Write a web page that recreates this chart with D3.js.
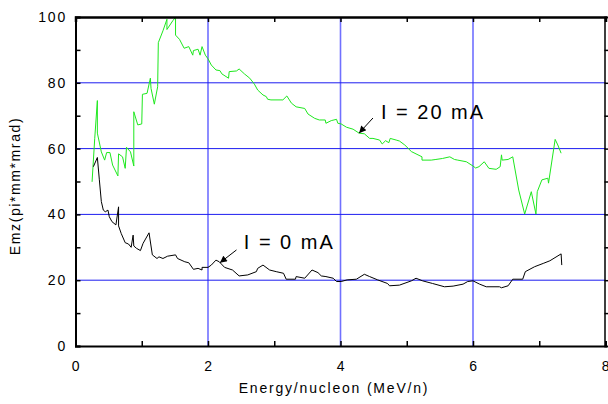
<!DOCTYPE html>
<html>
<head>
<meta charset="utf-8">
<script src="https://cdn.jsdelivr.net/npm/d3@7"></script>
<style>
  html, body { margin: 0; padding: 0; background: #fff; }
  svg { display: block; font-family: Arial, "Liberation Sans", sans-serif; }
</style>
</head>
<body>
<div id="chart"></div>
<script>
// I = 20 mA curve (green)
const energy20 = [0.25,0.29,0.33,0.33,0.39,0.44,0.47,0.52,0.56,0.64,0.65,0.71,0.75,0.77,0.83,0.88,0.88,0.94,1.00,1.01,1.08,1.13,1.14,1.19,1.24,1.25,1.32,1.38,1.38,1.47,1.51,1.51,1.57,1.64,1.71,1.77,1.78,1.85,1.88,1.91,1.96,2.00,2.05,2.12,2.18,2.21,2.31,2.32,2.43,2.47,2.55,2.63,2.70,2.75,2.83,2.88,2.90,2.95,3.13,3.19,3.26,3.33,3.46,3.51,3.61,3.68,3.77,3.78,3.86,3.94,3.96,4.01,4.09,4.19,4.28,4.36,4.44,4.49,4.59,4.63,4.68,4.73,4.75,4.84,4.89,4.97,5.07,5.14,5.23,5.23,5.37,5.44,5.54,5.65,5.72,5.77,5.90,6.00,6.04,6.09,6.17,6.24,6.35,6.41,6.43,6.44,6.53,6.60,6.69,6.78,6.88,6.95,6.97,7.04,7.13,7.14,7.24,7.28,7.33];
const emz20 = [49.9,63,74.6,64.7,59,56.5,58.8,58.8,55,51.7,58.4,57.5,54,60.4,59,54.7,71.2,67.2,67.5,76.5,76.8,81.4,78.3,73.5,78.8,92.2,95.8,99.3,96.2,98.9,99.9,94.5,93.2,90.5,91,88.4,89.8,90.2,88.4,91,88.4,87.3,85.4,83.9,83.7,82.7,81.4,83.4,83.6,84.2,82.7,81.4,79.6,77.8,76.3,75.8,75,74.8,74.8,76,73.8,72.7,72.2,70.5,69.2,68.7,68.7,67.7,68.5,68.9,67.7,67.5,66.5,65.9,64.7,64.5,63.1,63.1,62.6,61.4,62.4,61.8,63.1,62.6,62.3,61.1,59.1,58.4,57.5,56.5,56.5,56.7,57,57.5,56.7,56.5,56,54.7,54.1,54.5,56,54,53.7,54.5,58.1,56.5,56.7,57.5,47.4,40.1,46.9,40.1,46.9,50.5,51,49.5,62.8,61.1,58.6];

// I = 0 mA curve (black)
const energy0 = [0.27,0.33,0.36,0.39,0.42,0.45,0.49,0.51,0.55,0.61,0.65,0.65,0.69,0.75,0.80,0.84,0.87,0.88,0.92,0.98,1.02,1.11,1.16,1.23,1.26,1.32,1.39,1.51,1.54,1.65,1.71,1.78,1.85,1.91,1.91,2.00,2.05,2.12,2.17,2.25,2.37,2.47,2.60,2.73,2.75,2.83,2.93,3.03,3.14,3.18,3.32,3.33,3.46,3.57,3.66,3.71,3.78,3.89,3.94,4.01,4.10,4.24,4.36,4.44,4.56,4.71,4.74,4.89,5.07,5.14,5.24,5.39,5.57,5.70,5.85,5.92,6.00,6.10,6.20,6.40,6.43,6.53,6.60,6.75,6.79,6.93,7.06,7.16,7.33,7.34];
const emz0 = [54.5,57.3,50.5,43.9,41.3,40.8,41.3,39.3,37.8,36.8,42.3,36.5,34.2,31.4,31,30,33.7,30.4,29.7,29,31.2,34.4,27.7,26.6,27.1,26.6,27.3,27.7,26.6,25.6,25.3,23.3,23.6,23.1,23.9,23.9,24.6,26.1,25.6,23.9,23.1,21.3,21.6,22.6,23.6,24.6,23.1,22.6,22.1,20.3,20.3,21.1,20.6,23.1,22.3,21.3,21.1,20.6,19.6,19.6,20.1,20.3,21.8,21.1,20.1,19.0,18.3,18.5,19.8,20.6,19.8,19.0,18.0,18.2,18.8,19.6,19.8,18.8,18.0,18.0,17.7,18.3,20.3,20.3,22.6,24.1,25.1,25.9,28.0,24.6];

const xTicks = [0, 2, 4, 6, 8];
const yTicks = [0, 20, 40, 60, 80, 100];
const gridX = [2, 4, 6];
const gridY = [20, 40, 60, 80];

// annotations: label position and arrow (tail -> head), in data units
const labels = [
  { text: "I = 20 mA", x: 4.61, y: 69.0, from: [4.49, 69.3], to: [4.28, 64.7] },
  { text: "I = 0 mA",  x: 2.54, y: 29.5, from: [2.43, 29.2], to: [2.18, 25.3] }
];

const width = 608, height = 404;
const x = d3.scaleLinear().domain([0, 8]).range([75.5, 605.5]);
const y = d3.scaleLinear().domain([0, 100]).range([346, 17]);

const svg = d3.select("#chart").append("svg")
  .attr("width", width)
  .attr("height", height);

svg.append("defs").append("marker")
    .attr("id", "arrow")
    .attr("viewBox", "0 0 10 10")
    .attr("refX", 10).attr("refY", 5)
    .attr("markerWidth", 9).attr("markerHeight", 7)
    .attr("markerUnits", "userSpaceOnUse")
    .attr("orient", "auto")
  .append("path")
    .attr("d", "M0,0 L10,5 L0,10 Z")
    .attr("fill", "#000");

// grid
svg.append("g").selectAll("line").data(gridX).join("line")
  .attr("x1", d => x(d)).attr("x2", d => x(d))
  .attr("y1", y(0)).attr("y2", y(100))
  .attr("stroke", "#7070ff").attr("stroke-width", 1.6);
svg.append("g").selectAll("line").data(gridY).join("line")
  .attr("x1", x(0)).attr("x2", x(8))
  .attr("y1", d => y(d)).attr("y2", d => y(d))
  .attr("stroke", "#1c1cf0").attr("stroke-width", 1);

// curves
const line = d3.line().x(d => x(d[0])).y(d => y(d[1]));
svg.append("path")
  .datum(d3.zip(energy20, emz20))
  .attr("d", line)
  .attr("fill", "none")
  .attr("stroke", "#1ee81e")
  .attr("stroke-width", 1);
svg.append("path")
  .datum(d3.zip(energy0, emz0))
  .attr("d", line)
  .attr("fill", "none")
  .attr("stroke", "#000")
  .attr("stroke-width", 1);

// frame with inward ticks
const minorX = d3.range(0, 8.01, 1);
const minorY = d3.range(0, 100.1, 10);

svg.append("g")
    .attr("transform", `translate(0,${y(0)})`)
    .call(d3.axisBottom(x).tickValues(minorX).tickSize(-5).tickFormat(""))
    .call(g => g.select(".domain").attr("stroke-width", 2));
svg.append("g")
    .attr("transform", `translate(0,${y(100)})`)
    .call(d3.axisTop(x).tickValues(minorX).tickSize(-5).tickFormat(""))
    .call(g => g.select(".domain").attr("stroke-width", 2.5));
svg.append("g")
    .attr("transform", `translate(${x(0)},0)`)
    .call(d3.axisLeft(y).tickValues(minorY).tickSize(-5).tickFormat(""))
    .call(g => g.select(".domain").attr("stroke-width", 2));
svg.append("g")
    .attr("transform", `translate(${x(8) - 1},0)`)
    .call(d3.axisRight(y).tickValues(minorY).tickSize(4).tickFormat(""))
    .call(g => g.select(".domain").attr("stroke-width", 1.5));
svg.selectAll(".tick line").attr("stroke-width", 1.5);

// tick labels
svg.append("g").selectAll("text").data(xTicks).join("text")
  .attr("x", d => x(d) + 1)
  .attr("y", 371)
  .attr("text-anchor", "middle")
  .attr("font-size", 14)
  .attr("letter-spacing", 1.8)
  .text(d => d);
svg.append("g").selectAll("text").data(yTicks).join("text")
  .attr("x", 67)
  .attr("y", d => y(d) + 5)
  .attr("text-anchor", "end")
  .attr("font-size", 14)
  .attr("letter-spacing", 1.8)
  .text(d => d);

// axis titles
svg.append("text")
  .attr("x", 334).attr("y", 393)
  .attr("text-anchor", "middle")
  .attr("font-size", 14)
  .attr("letter-spacing", 1.8)
  .text("Energy/nucleon (MeV/n)");
svg.append("text")
  .attr("transform", `translate(20,186) rotate(-90)`)
  .attr("text-anchor", "middle")
  .attr("font-size", 14)
  .attr("letter-spacing", 1.6)
  .text("Emz(pi*mm*mrad)");

// annotations
const notes = svg.append("g").selectAll("g").data(labels).join("g");
notes.append("text")
  .attr("x", d => x(d.x)).attr("y", d => y(d.y))
  .attr("font-size", 20)
  .attr("letter-spacing", 2)
  .text(d => d.text);
notes.append("line")
  .attr("x1", d => x(d.from[0])).attr("y1", d => y(d.from[1]))
  .attr("x2", d => x(d.to[0])).attr("y2", d => y(d.to[1]))
  .attr("stroke", "#000").attr("stroke-width", 1)
  .attr("marker-end", "url(#arrow)");
</script>
</body>
</html>
